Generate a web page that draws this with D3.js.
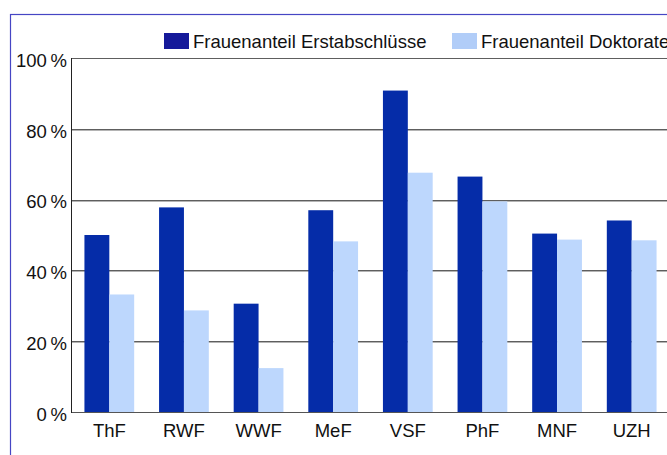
<!DOCTYPE html>
<html><head><meta charset="utf-8">
<script src="https://cdn.jsdelivr.net/npm/d3@7"></script>
<style>html,body{margin:0;padding:0;background:#fff;overflow:hidden}text{font-family:"Liberation Sans",Arial,sans-serif;fill:#111}</style>
</head><body>
<svg id="c" width="667" height="455"></svg>
<script>
const categories = ["ThF","RWF","WWF","MeF","VSF","PhF","MNF","UZH"];
const seriesNames = ["Frauenanteil Erstabschlüsse","Frauenanteil Doktorate"];
const erstabschluesse = [50, 57.8, 30.6, 57, 90.8, 66.5, 50.4, 54.1];
const doktorate = [33.2, 28.7, 12.4, 48.2, 67.6, 59.5, 48.7, 48.5];
const yTicks = [0, 20, 40, 60, 80, 100];
const barColors = ["#052ca8", "#bdd7fd"];
const legendColors = ["#15199a", "#b1cdf8"];

(function(){
const svg = d3.select("#c");
const pl = 72, pr = 669, pt = 58, pb = 412;

// frame
svg.append("rect").attr("x",10.5).attr("y",14.5).attr("width",700).attr("height",500)
  .attr("fill","none").attr("stroke","#4646c4").attr("stroke-width",1.2);

const x0 = d3.scaleBand().domain(categories).range([pl, pr]).padding(0);
const x1 = d3.scaleBand().domain(seriesNames).range([0, x0.bandwidth()]).paddingInner(0).paddingOuter(0.5);
const y = d3.scaleLinear().domain([0,100]).range([pb, pt]);

// gridlines
const grid = svg.append("g");
yTicks.filter(t => t > 0).forEach(t => {
  const yy = Math.round(y(t));
  grid.append("line").attr("x1",pl).attr("x2",680).attr("y1",yy+0.5).attr("y2",yy+0.5).attr("stroke","#5e5e5e");
  if (t < 100) grid.append("line").attr("x1",pl).attr("x2",680).attr("y1",yy+1.5).attr("y2",yy+1.5).attr("stroke","#b4b4b4");
});

// bars
const data = categories.map((c,i) => ({c, v:[erstabschluesse[i], doktorate[i]]}));
const g = svg.append("g");
data.forEach(d => {
  d.v.forEach((v,j) => {
    g.append("rect")
      .attr("x", x0(d.c) + x1(seriesNames[j]))
      .attr("y", y(v))
      .attr("width", x1.bandwidth())
      .attr("height", y(0) - y(v))
      .attr("fill", barColors[j]);
  });
});

// axes lines
svg.append("line").attr("x1",pl-0.5).attr("x2",pl-0.5).attr("y1",pt).attr("y2",pb+1).attr("stroke","#222");
svg.append("line").attr("x1",pl).attr("x2",680).attr("y1",pb+0.5).attr("y2",pb+0.5).attr("stroke","#555").attr("stroke-width",1.2);

// y tick labels via axis
const yAxis = d3.axisLeft(y).tickValues(yTicks).tickSize(0).tickPadding(5)
  .tickFormat(d => d + "\u2009%");
const ya = svg.append("g").attr("transform",`translate(${pl},0)`).call(yAxis);
ya.select(".domain").remove();
ya.selectAll("text").attr("font-size",18.5).attr("dy","0.45em").attr("font-family","Liberation Sans, Arial, sans-serif").attr("fill","#111");

// x labels
const xAxis = d3.axisBottom(x0).tickSize(0).tickPadding(12);
const xa = svg.append("g").attr("transform",`translate(0,${pb})`).call(xAxis);
xa.select(".domain").remove();
xa.selectAll("text").attr("font-size",18.5).attr("font-family","Liberation Sans, Arial, sans-serif").attr("fill","#111");

// legend
const legX = [164, 452];
seriesNames.forEach((s,i) => {
  svg.append("rect").attr("x",legX[i]).attr("y",33).attr("width",25).attr("height",16).attr("fill",legendColors[i]);
  svg.append("text").attr("x",legX[i]+29).attr("y",47.5).attr("font-size",18.5).text(s);
});
})();
</script>
</body></html>
